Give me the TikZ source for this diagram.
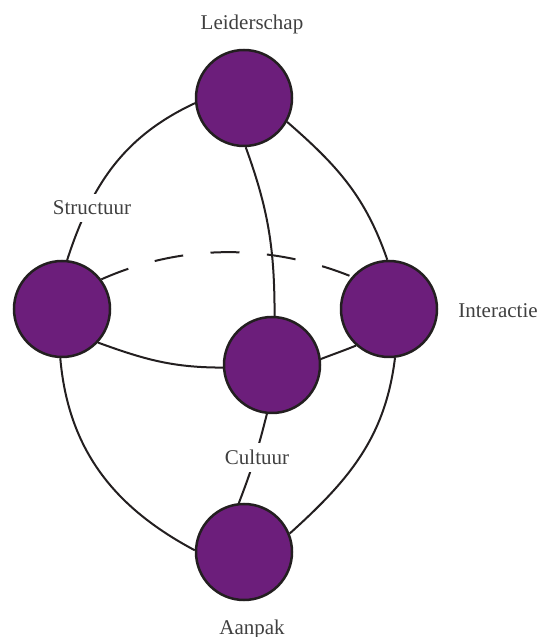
\documentclass[tikz,border=0pt]{standalone}
\usepackage{fontspec}
\setmainfont{Liberation Serif}
\usepackage{tikz}
\usepackage{xcolor}
\definecolor{paars}{RGB}{108,30,123}
\definecolor{rand}{RGB}{35,31,32}
\definecolor{tekst}{RGB}{64,64,64}
\tikzset{
  bol/.style={circle,draw=rand,fill=paars,line width=2.5pt,minimum size=96pt,inner sep=0pt},
  lijn/.style={draw=rand,line width=2pt},
  naam/.style={text=tekst,font=\fontsize{21}{24}\selectfont,inner sep=0pt,anchor=base},
  tussen/.style={naam,fill=white,inner sep=7pt}
}

\begin{document}
\begin{tikzpicture}[x=1pt,y=1pt]
  \useasboundingbox (0,0) rectangle (550,637);
  \node[bol] (leid) at (244,539) {}; \node[bol] (struc) at (62,328) {}; \node[bol] (inter) at (389,328) {};
  \node[bol] (cult) at (272,272) {}; \node[bol] (aanp) at (244,85) {};
  % bogen tussen de bollen
  \draw[lijn] (leid.186) to[out=205,in=72] (struc.84);
  \draw[lijn] (leid.-88) to[out=-70,in=90] (cult.87);
  \draw[lijn] (leid.-29) to[out=-41,in=109] (inter.92);
  \draw[lijn] (struc.-43) to[out=-20,in=180] (cult.183);
  \draw[lijn] (cult.7) to[out=21,in=202] (inter.228);
  \draw[lijn,dash pattern=on 29pt off 27.5pt] (struc.37) to[out=24,in=158,looseness=0.9] (inter.139);
  \draw[lijn] (struc.-92) to[out=-85,in=152] (aanp.178);
  \draw[lijn] (inter.-83) to[out=-97,in=42] (aanp.22);
  \draw[lijn] (cult.-96) to[out=-104,in=69] (aanp.96);
  % namen
  \node[naam] (tleid) at (252,607) {Leiderschap};
  \node[tussen] (tstruc) at (92,422) {Structuur};
  \node[naam] (tinter) at (498,319) {Interactie};
  \node[tussen] (tcult) at (257,172) {Cultuur};
  \node[naam] (taanp) at (252,2) {Aanpak};
\end{tikzpicture}
\end{document}
